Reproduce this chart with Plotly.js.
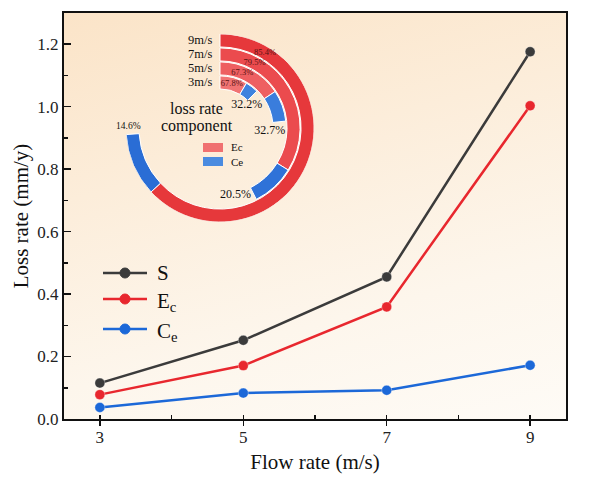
<!DOCTYPE html>
<html>
<head>
<meta charset="utf-8">
<script src="https://cdn.plot.ly/plotly-3.0.1.min.js"></script>
<style>
  html, body { margin:0; padding:0; background:#ffffff; }
  #wrap { position:relative; width:589px; height:481px; }
  #bg { position:absolute; left:64px; top:13px; width:502px; height:406px;
        background: linear-gradient(165deg, #fbe4c8 0%, #fcedda 35%, #fdf6ec 70%, #fefbf6 100%); }
  #chart { position:absolute; left:0; top:0; width:589px; height:481px; }
</style>
</head>
<body>
<div id="wrap"><div id="bg"></div><div id="chart"></div></div>
<script>
// ---- data ----
const flowRate = [3, 5, 7, 9];
const seriesS  = [0.115, 0.252, 0.455, 1.176];
const seriesEc = [0.078, 0.171, 0.359, 1.003];
const seriesCe = [0.037, 0.083, 0.092, 0.172];
const seriesNames = ['S', 'E<sub>c</sub>', 'C<sub>e</sub>'];

const ringLabels = ['3m/s', '5m/s', '7m/s', '9m/s'];
const ecPct = [67.8, 67.3, 79.5, 85.4];
const cePct = [32.2, 32.7, 20.5, 14.6];
const ringSpan = [45, 84, 153, 266];   // angular extent (deg) of each ring

// ---- helpers ----
const L = 64, T = 13, W = 502, H = 406;
const px = x => (x - L) / W;
const py = y => (T + H - y) / H;

const serif = 'Liberation Serif, Times New Roman, serif';
const lineColors = ['#3b3b3b', '#e8272e', '#1c68d8'];

const traces = [];
[seriesS, seriesEc, seriesCe].forEach((y, k) => {
  traces.push({
    type: 'scatter', mode: 'lines+markers', name: seriesNames[k], showlegend: false,
    x: flowRate, y: y,
    line: { color: lineColors[k], width: 2.5 },
    marker: { color: lineColors[k], size: 10, line: { color: 'rgba(255,255,255,0.35)', width: 1 } },
    xaxis: 'x', yaxis: 'y'
  });
});

// ---- inset radial bars ----
const ringBase = ringLabels.map((_, i) => 2.79 + i);
const ringThick = ringLabels.map(() => 0.93);
const ecAng = ringSpan.map((s, i) => s * ecPct[i] / 100);
const ceAng = ringSpan.map((s, i) => s * cePct[i] / 100);

traces.push({
  type: 'barpolar', subplot: 'polar', showlegend: false, name: 'Ec',
  r: ringThick, base: ringBase,
  theta: ecAng.map(a => a / 2), width: ecAng,
  marker: { color: ['#f07373', '#ee5f61', '#eb4b4e', '#e6383b'], line: { color: '#ffffff', width: 1 } },
  hoverinfo: 'skip'
});
traces.push({
  type: 'barpolar', subplot: 'polar', showlegend: false, name: 'Ce',
  r: ringThick, base: ringBase,
  theta: ceAng.map((a, i) => ecAng[i] + a / 2), width: ceAng,
  marker: { color: ['#3f82de', '#3a7ddc', '#2f72d8', '#2a6dd5'], line: { color: '#ffffff', width: 1 } },
  hoverinfo: 'skip'
});
// Ec percentage labels inside rings
traces.push({
  type: 'scatterpolar', subplot: 'polar', mode: 'text', showlegend: false,
  r: ringBase.map((b, i) => b + ringThick[i] / 2),
  theta: [15, 22, 28, 31],
  text: ecPct.map(v => v.toFixed(1) + '%'),
  textfont: { family: serif, size: 8.5, color: '#5a1414' },
  hoverinfo: 'skip'
});
// Ce percentage labels
traces.push({
  type: 'scatterpolar', subplot: 'polar', mode: 'text', showlegend: false,
  r: [2.52, 3.57, 4.9, 6.55],
  theta: [49, 94, 167, 271],
  text: cePct.map(v => v.toFixed(1) + '%'),
  textfont: { family: serif, size: [12, 12, 12, 9.5], color: '#111111' },
  hoverinfo: 'skip'
});

const annotations = [];
const shapes = [];
ringLabels.forEach((lab, i) => {
  annotations.push({
    xref: 'paper', yref: 'paper', x: px(214), y: py(82 - 14 * i),
    xanchor: 'right', yanchor: 'middle', showarrow: false,
    text: lab, font: { family: serif, size: 12.5, color: '#111' }
  });
});
annotations.push({ xref: 'paper', yref: 'paper', x: px(196), y: py(108), xanchor: 'center', yanchor: 'middle',
  showarrow: false, text: 'loss rate', font: { family: serif, size: 16, color: '#111' } });
annotations.push({ xref: 'paper', yref: 'paper', x: px(197), y: py(126.5), xanchor: 'center', yanchor: 'middle',
  showarrow: false, text: 'component', font: { family: serif, size: 16, color: '#111' } });
annotations.push({ xref: 'paper', yref: 'paper', x: px(229), y: py(147.5), xanchor: 'left', yanchor: 'middle',
  showarrow: false, text: 'Ec', font: { family: serif, size: 11, color: '#111' } });
annotations.push({ xref: 'paper', yref: 'paper', x: px(229), y: py(161.5), xanchor: 'left', yanchor: 'middle',
  showarrow: false, text: 'Ce', font: { family: serif, size: 11, color: '#111' } });

shapes.push({ type: 'rect', xref: 'paper', yref: 'paper', x0: px(203), x1: px(223), y0: py(152), y1: py(143),
  fillcolor: '#f07070', line: { width: 0 } });
shapes.push({ type: 'rect', xref: 'paper', yref: 'paper', x0: px(203), x1: px(223), y0: py(166), y1: py(157),
  fillcolor: '#4a8be0', line: { width: 0 } });

// ---- main legend (line + marker + text) ----
const legY = [273, 299, 329];
seriesNames.forEach((nm, k) => {
  const yy = legY[k];
  shapes.push({ type: 'line', xref: 'paper', yref: 'paper', x0: px(103), x1: px(147), y0: py(yy), y1: py(yy),
    line: { color: lineColors[k], width: 2.5 } });
  shapes.push({ type: 'circle', xref: 'paper', yref: 'paper', x0: px(120), x1: px(130), y0: py(yy + 5), y1: py(yy - 5),
    fillcolor: lineColors[k], line: { color: lineColors[k], width: 1 } });
  annotations.push({ xref: 'paper', yref: 'paper', x: px(155), y: py(yy), xanchor: 'left', yanchor: 'middle',
    yshift: k === 0 ? 0 : -3, showarrow: false, text: nm, font: { family: serif, size: 21, color: '#111' } });
});

const layout = {
  width: 589, height: 481,
  margin: { l: L, r: 589 - L - W, t: T, b: 481 - T - H },
  paper_bgcolor: 'rgba(0,0,0,0)', plot_bgcolor: 'rgba(0,0,0,0)',
  font: { family: serif, color: '#111' },
  showlegend: false,
  xaxis: {
    range: [2.5, 9.5], tickvals: flowRate, ticks: 'outside', ticklen: 5, tickwidth: 1.5, tickcolor: '#111',
    showline: true, linecolor: '#111', linewidth: 2, mirror: true, showgrid: false, zeroline: false,
    tickfont: { family: serif, size: 17, color: '#222' }, ticklabelstandoff: -3,
    minor: { dtick: 1, tick0: 3, ticks: 'inside', ticklen: 4, tickwidth: 1.5, tickcolor: '#111', showgrid: false },
    title: { text: 'Flow rate (m/s)', font: { family: serif, size: 21, color: '#111' }, standoff: 8 }
  },
  yaxis: {
    range: [0, 1.3], dtick: 0.2, tick0: 0, tickformat: '.1f', ticks: 'inside', ticklen: 7, tickwidth: 1.5, tickcolor: '#111',
    showline: true, linecolor: '#111', linewidth: 2, mirror: true, showgrid: false, zeroline: false,
    tickfont: { family: serif, size: 17, color: '#222' },
    minor: { dtick: 0.1, ticks: 'inside', ticklen: 4, tickwidth: 1.5, tickcolor: '#111', showgrid: false },
    title: { text: 'Loss rate (mm/y)', font: { family: serif, size: 21, color: '#111' }, standoff: 3 }
  },
  polar: {
    domain: { x: [px(126), px(314)], y: [py(222), py(34)] },
    bgcolor: 'rgba(0,0,0,0)',
    hole: 0,
    radialaxis: { range: [0, 6.714], visible: false },
    angularaxis: { direction: 'clockwise', rotation: 90, visible: false }
  },
  annotations: annotations,
  shapes: shapes
};

Plotly.newPlot('chart', traces, layout, { staticPlot: true, displayModeBar: false });
</script>
</body>
</html>
